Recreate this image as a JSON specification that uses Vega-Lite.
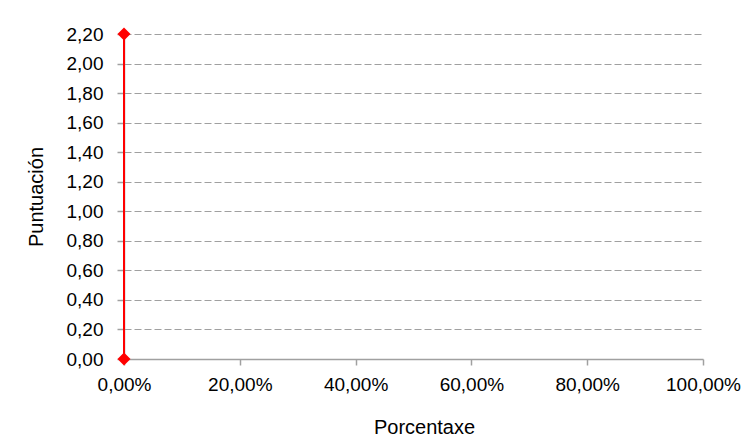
{
  "$schema": "https://vega.github.io/schema/vega-lite/v6.json",
  "width": 579,
  "height": 325,
  "autosize": "none",
  "padding": {"left": 124, "top": 34, "right": 49, "bottom": 89},
  "background": "white",
  "data": {
    "values": [
      {"Porcentaxe": 0, "Puntuacion": 0},
      {"Porcentaxe": 0, "Puntuacion": 2.2}
    ]
  },
  "encoding": {
    "x": {
      "field": "Porcentaxe",
      "type": "quantitative",
      "title": "Porcentaxe",
      "scale": {"domain": [0, 1], "nice": false, "zero": false},
      "axis": {
        "values": [0, 0.2, 0.4, 0.6, 0.8, 1],
        "format": ".2%",
        "grid": false,
        "tickSize": 6,
        "labelFlush": false,
        "labelPadding": 10,
        "titlePadding": 23,
        "titleX": 300
      }
    },
    "y": {
      "field": "Puntuacion",
      "type": "quantitative",
      "title": "Puntuación",
      "scale": {"domain": [0, 2.2], "nice": false},
      "axis": {
        "values": [0, 0.2, 0.4, 0.6, 0.8, 1, 1.2, 1.4, 1.6, 1.8, 2, 2.2],
        "format": ".2f",
        "grid": true,
        "gridDash": [7, 3],
        "gridColor": "#a0a0a0",
        "tickSize": 7,
        "labelFlush": false,
        "labelPadding": 14,
        "titlePadding": 20
      }
    }
  },
  "layer": [
    {"mark": {"type": "line", "color": "#ff0000", "strokeWidth": 2}},
    {"mark": {"type": "point", "shape": "diamond", "filled": true, "color": "#ff0000", "size": 170, "opacity": 1}}
  ],
  "config": {
    "locale": {
      "number": {"decimal": ",", "thousands": ".", "grouping": [3], "currency": ["", " €"]}
    },
    "view": {"stroke": null},
    "axis": {
      "labelFont": "Liberation Sans",
      "titleFont": "Liberation Sans",
      "labelFontSize": 19,
      "titleFontSize": 20,
      "titleFontWeight": "normal",
      "labelColor": "#000000",
      "titleColor": "#000000",
      "domainColor": "#a0a0a0",
      "tickColor": "#a0a0a0",
      "domainWidth": 1.5,
      "tickWidth": 1.5
    }
  }
}
